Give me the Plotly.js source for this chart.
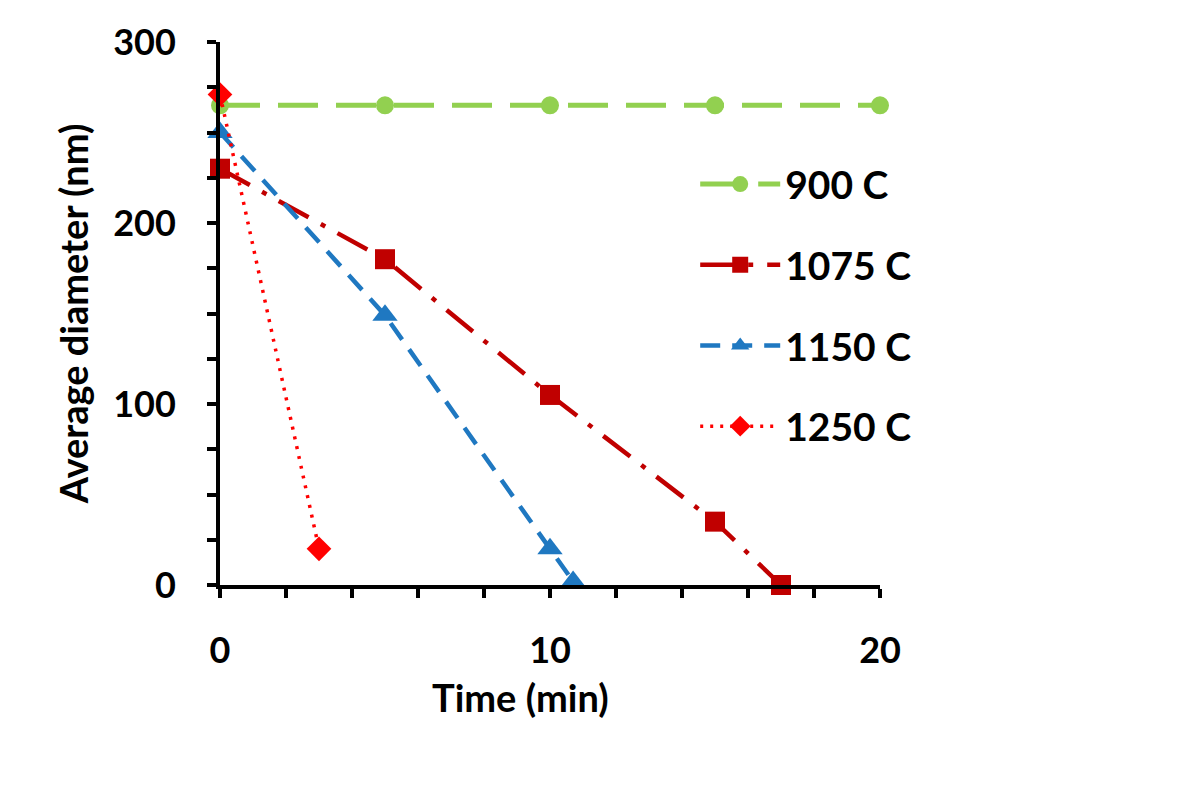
<!DOCTYPE html>
<html><head><meta charset="utf-8">
<script src="https://cdn.plot.ly/plotly-3.0.1.min.js"></script>
<style>body{margin:0;background:#fff}#chart{width:1200px;height:796px}</style>
</head><body><div id="chart"></div>
<script>
const seriesNames = ['900 C', '1075 C', '1150 C', '1250 C'];
const x900 = [0, 5, 10, 15, 20];
const y900 = [265, 265, 265, 265, 265];
const x1075 = [0, 5, 10, 15, 17];
const y1075 = [230, 180, 105, 35, 0];
const x1150 = [0, 5, 10, 10.7];
const y1150 = [250, 149, 20, 2];
const x1250 = [0, 3];
const y1250 = [271, 20];
const xTickVals = [0, 2, 4, 6, 8, 10, 12, 14, 16, 18, 20];
const xTickText = ['0', '', '', '', '', '10', '', '', '', '', '20'];
const yTickVals = [0, 25, 50, 75, 100, 125, 150, 175, 200, 225, 250, 275, 300];
const yTickText = ['0', '', '', '', '100', '', '', '', '200', '', '', '', '300'];
const xTitle = 'Time (min)';
const yTitle = 'Average diameter (nm)';

const FONT = 'Lato, "Open Sans", sans-serif';
const mk = (x, y, name, color, width, dash, symbol, size, grp) => ({
  x, y, name, type: 'scatter', mode: 'lines+markers', cliponaxis: false,
  legendgroup: grp,
  line: {color, width, dash},
  marker: {color, symbol, size}
});
const traces = [
  mk(x900, y900, seriesNames[0], '#92d050', 5, '40px,18px', 'circle', 18, 'a'),
  mk(x1075, y1075, seriesNames[1], '#c00000', 4.5, '34px,14px,5px,14px', 'square', 20, 'b'),
  mk(x1150, y1150, seriesNames[2], '#1f78c1', 4.5, '20px,12px', 'triangle-up', 22, 'c'),
  mk(x1250, y1250, seriesNames[3], '#ff0000', 3.5, '3px,7px', 'diamond', 19, 'd')
];
const layout = {
  width: 1200, height: 796,
  margin: {l: 220, r: 320, t: 42, b: 211},
  paper_bgcolor: '#fff', plot_bgcolor: '#fff',
  font: {family: FONT, color: '#000', size: 36, weight: 'bold'},
  showlegend: true,
  legend: {x: 0.72, y: 0.797, xanchor: 'left', yanchor: 'top', bgcolor: 'rgba(0,0,0,0)',
    font: {family: FONT, size: 39, color: '#000', weight: 'bold'},
    itemwidth: 80, traceorder: 'grouped', tracegroupgap: 27},
  annotations: [{
    text: xTitle, xref: 'paper', yref: 'paper', x: 0.456, y: -0.207,
    xanchor: 'center', yanchor: 'middle', showarrow: false,
    font: {family: FONT, size: 38, weight: 'bold', color: '#000'}
  }],
  xaxis: {
    range: [0, 20], showgrid: false, zeroline: false,
    showline: true, linecolor: '#000', linewidth: 4,
    ticks: 'outside', ticklen: 9, tickwidth: 4, tickcolor: '#000',
    tickvals: xTickVals, ticktext: xTickText, ticklabelstandoff: 22,
    tickfont: {family: FONT, size: 36, weight: 'bold'}
  },
  yaxis: {
    range: [0, 300], showgrid: false, zeroline: false,
    showline: true, linecolor: '#000', linewidth: 4,
    ticks: 'outside', ticklen: 9, tickwidth: 4, tickcolor: '#000',
    tickvals: yTickVals, ticktext: yTickText, ticklabelstandoff: 24,
    tickfont: {family: FONT, size: 36, weight: 'bold'},
    title: {text: yTitle, standoff: 14, font: {family: FONT, size: 38, weight: 'bold'}}
  }
};
Plotly.newPlot('chart', traces, layout, {displayModeBar: false, staticPlot: true});
</script></body></html>
